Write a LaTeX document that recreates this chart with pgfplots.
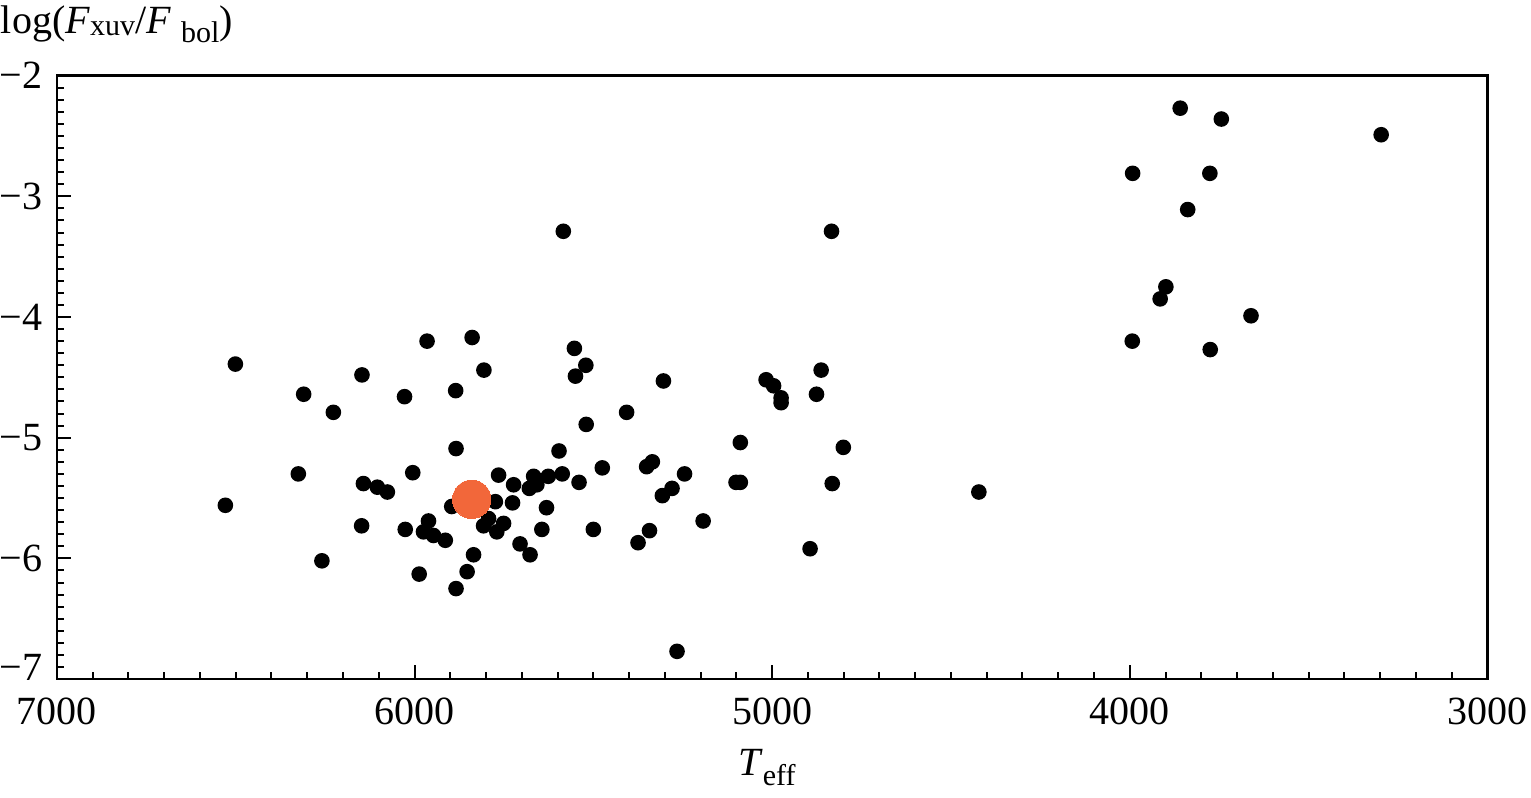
\documentclass[border=0pt]{standalone}
\usepackage{fontspec}
\setmainfont{Liberation Serif}
\usepackage{pgfplots}
\usepackage{pgfplotstable}
\pgfplotsset{compat=1.18}
\definecolor{sunorange}{RGB}{242,103,58}

\pgfplotstableread{
T v
6529 -5.56
6501 -4.39
6325 -5.30
6310 -4.64
6259 -6.02
6227 -4.79
6147 -4.48
6143 -5.38
6148 -5.73
6104 -5.41
6076 -5.45
6028 -4.66
6026 -5.76
6005 -5.29
5987 -6.13
5975 -5.78
5965 -4.20
5961 -5.69
5947 -5.81
5914 -5.85
5896 -5.57
5885 -4.61
5884 -5.09
5884 -6.25
5853 -6.11
5839 -4.17
5835 -5.97
5806 -4.44
5793 -5.67
5807 -5.73
5774 -5.53
5765 -5.31
5770 -5.78
5751 -5.71
5726 -5.54
5723 -5.39
5705 -5.88
5677 -5.97
5679 -5.42
5667 -5.32
5658 -5.39
5644 -5.76
5631 -5.58
5626 -5.32
5596 -5.11
5587 -5.30
5584 -3.29
5553 -4.26
5550 -4.49
5521 -4.40
5520 -4.89
5540 -5.37
5500 -5.76
5475 -5.25
5407 -4.79
5375 -5.87
5351 -5.24
5335 -5.20
5343 -5.77
5307 -5.48
5304 -4.53
5280 -5.42
5266 -6.77
5245 -5.30
5193 -5.69
5101 -5.37
5089 -5.37
5089 -5.04
5017 -4.52
4996 -4.57
4975 -4.67
4975 -4.71
4894 -5.92
4876 -4.64
4863 -4.44
4834 -3.29
4832 -5.38
4801 -5.08
4422 -5.45
3992 -2.81
3993 -4.20
3915 -3.85
3899 -3.75
3859 -2.27
3838 -3.11
3776 -2.81
3775 -4.27
3744 -2.36
3661 -3.99
3297 -2.49
}\stars

\pgfplotstableread{
T v
5840 -5.51
}\sun

\begin{document}
\begin{tikzpicture}
\begin{axis}[
  name=ax,
  scale only axis,
  width=357.65pt, height=150.9pt,
  xmin=3000, xmax=7000, x dir=reverse,
  ymin=-7, ymax=-2,
  xtick={3000,4000,5000,6000,7000},
  xticklabels={3000,4000,5000,6000,7000},
  minor x tick num=9,
  ytick={-6,-5,-4,-3,-2},
  yticklabels={−6,−5,−4,−3,−2},
  extra y ticks={-7},
  extra y tick labels={−7},
  extra y tick style={yticklabel style={yshift=3pt}},
  minor ytick={-6.9,-6.8,...,-2.05},
  tick align=inside,
  xtick pos=left, ytick pos=left,
  major tick length=3.5pt, minor tick length=1.8pt,
  axis line style={line width=0.6pt},
  every tick/.style={black, line width=0.5pt},
  ticklabel style={font=\fontsize{10}{12}\selectfont},
  xticklabel style={inner sep=0pt, yshift=-4.4pt},
  yticklabel style={inner sep=0pt, xshift=-3.4pt},
]
\addplot[only marks, mark=*, mark size=1.75pt, black] table[x=T, y=v] {\stars};
\addplot[only marks, mark=*, mark size=4.8pt, color=sunorange, mark options={draw=sunorange, fill=sunorange, line width=0pt}] table[x=T, y=v] {\sun};
\end{axis}
\node[anchor=base west, inner sep=0pt, font=\fontsize{10}{12}\selectfont] at ([shift={(-14.2pt,10.6pt)}]ax.north west)
  {log(\textit{F}\raisebox{-0.6pt}{\fontsize{7.5}{9}\selectfont xuv}/\textit{F}\hspace{0.25em}\raisebox{-2.3pt}{\fontsize{7.5}{9}\selectfont bol})};
\node[anchor=base, inner sep=0pt, font=\fontsize{10}{12}\selectfont] at ([shift={(-1.3pt,-24pt)}]ax.south)
  {\textit{T}\raisebox{-2.5pt}{\fontsize{7.5}{9}\selectfont eff}};
\path ([shift={(-14.2pt,-29.5pt)}]ax.south west) rectangle ([shift={(10.9pt,18.9pt)}]ax.north east);
\end{tikzpicture}
\end{document}
